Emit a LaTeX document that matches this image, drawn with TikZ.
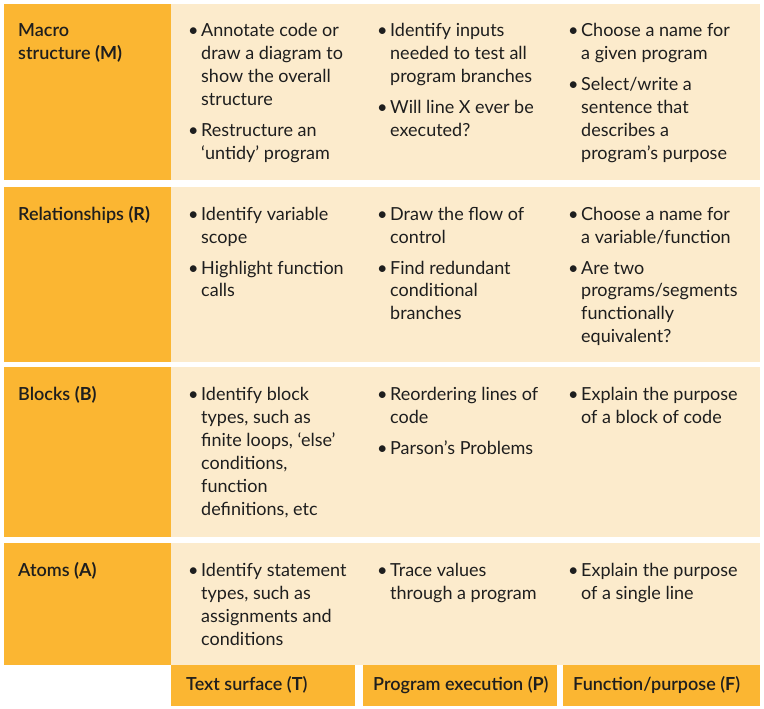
\documentclass[tikz,border=0pt]{standalone}
\usepackage{fontspec}
\setmainfont{Lato}
\newfontfamily\labfont{Lato Semibold}
\newcommand\B[1]{{\normalfont\bfseries #1}}
\definecolor{orng}{HTML}{FBB632}
\definecolor{crm}{HTML}{FCEBCC}
\definecolor{ink}{HTML}{1E1E1E}
\newcommand\bl{\makebox[13pt][l]{•}}
\newcommand\ind{\hspace*{13pt}}
\newcommand\cell[1]{\begin{tabular}[t]{@{}l@{}}#1\end{tabular}}
\begin{document}
\begin{tikzpicture}[x=1pt,y=-1pt,
  txt/.style={anchor=base west, inner sep=0pt, text=ink, font=\fontsize{18}{23}\selectfont},
  lab/.style={txt, font=\fontsize{18}{23}\selectfont\labfont}]
\useasboundingbox (0,0) rectangle (764,709);
% row cells
\fill[orng] (4,4) rectangle (171,180);
\fill[crm] (171,4) rectangle (760,180);
\fill[orng] (4,187) rectangle (171,362);
\fill[crm] (171,187) rectangle (760,362);
\fill[orng] (4,367) rectangle (171,537);
\fill[crm] (171,367) rectangle (760,537);
\fill[orng] (4,543) rectangle (171,665);
\fill[crm] (171,543) rectangle (760,665);
% column headers
\fill[orng] (171,665) rectangle (355,706);
\fill[orng] (363,665) rectangle (557,706);
\fill[orng] (563,665) rectangle (760,706);
% row labels
\node[lab] (lm) at (18,37) {\cell{Macro\\structure \B{(M)}}};
\node[lab] (lr) at (18,220) {Relationships \B{(R)}};
\node[lab] (lb) at (18,400) {Blocks \B{(B)}};
\node[lab] (la) at (18,576) {Atoms \B{(A)}};
% row M
\node[txt] (mt) at (188,37) {\cell{\bl Annotate code or\\ \ind draw a diagram to\\ \ind show the overall\\ \ind structure\\[8pt] \bl Restructure an\\ \ind ‘untidy’ program}};
\node[txt] (mp) at (377,37) {\cell{\bl Identify inputs\\ \ind needed to test all\\ \ind program branches\\[8pt] \bl Will line X ever be\\ \ind executed?}};
\node[txt] (mf) at (568,37) {\cell{\bl Choose a name for\\ \ind a given program\\[8pt] \bl Select/write a\\ \ind sentence that\\ \ind describes a\\ \ind program’s purpose}};
% row R
\node[txt] (rt) at (188,220) {\cell{\bl Identify variable\\ \ind scope\\[8pt] \bl Highlight function\\ \ind calls}};
\node[txt] (rp) at (377,220) {\cell{\bl Draw the flow of\\ \ind control\\[8pt] \bl Find redundant\\ \ind conditional\\ \ind branches}};
\node[txt] (rf) at (568,220) {\cell{\bl Choose a name for\\ \ind a variable/function\\[8pt] \bl Are two\\ \ind programs/segments\\ \ind functionally\\ \ind equivalent?}};
% row B
\node[txt] (bt) at (188,400) {\cell{\bl Identify block\\ \ind types, such as\\ \ind finite loops, ‘else’\\ \ind conditions,\\ \ind function\\ \ind definitions, etc}};
\node[txt] (bp) at (377,400) {\cell{\bl Reordering lines of\\ \ind code\\[8pt] \bl Parson’s Problems}};
\node[txt] (bf) at (568,400) {\cell{\bl Explain the purpose\\ \ind of a block of code}};
% row A
\node[txt] (at) at (188,576) {\cell{\bl Identify statement\\ \ind types, such as\\ \ind assignments and\\ \ind conditions}};
\node[txt] (ap) at (377,576) {\cell{\bl Trace values\\ \ind through a program}};
\node[txt] (af) at (568,576) {\cell{\bl Explain the purpose\\ \ind of a single line}};
% column labels
\node[lab] (ht) at (186,690) {Text surface (\B{T})};
\node[lab] (hp) at (373,690) {Program execution (\B{P})};
\node[lab] (hf) at (573,690) {Function/purpose (\B{F})};
\end{tikzpicture}
\end{document}
